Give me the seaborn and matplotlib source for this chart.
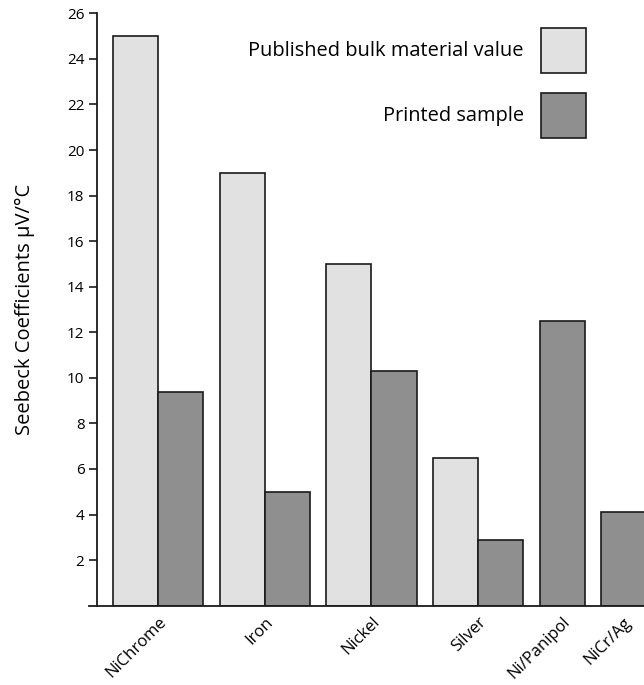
import matplotlib
matplotlib.use("Agg")
import matplotlib.pyplot as plt
import matplotlib.transforms as mtransforms
from matplotlib.patches import Patch
import seaborn as sns
import pandas as pd

categories = ["NiChrome", "Iron", "Nickel", "Silver", "Ni/Panipol", "NiCr/Ag"]
bulk_values = [25.0, 19.0, 15.0, 6.5, None, None]
printed_values = [9.4, 5.0, 10.3, 2.9, 12.5, 4.1]
series_names = ["Published bulk material value", "Printed sample"]
y_ticks = list(range(2, 27, 2))

colors = {"Published bulk material value": "#e1e1e1", "Printed sample": "#8f8f8f"}
edge = "#1a1a1a"

sns.set_theme(style="white")
plt.rcParams["font.family"] = ["Open Sans", "DejaVu Sans"]
for k in ["text.color", "axes.labelcolor", "xtick.color", "ytick.color"]:
    plt.rcParams[k] = "black"

# layout: bars of unit width, groups separated by a gap
gap = 0.36
rows = []
label_pos = []
start = 0.0
for cat, b, p in zip(categories, bulk_values, printed_values):
    vals = []
    if b is not None:
        vals.append((series_names[0], b))
    if p is not None:
        vals.append((series_names[1], p))
    for i, (s, v) in enumerate(vals):
        rows.append({"pos": start + i, "value": v, "series": s, "cat": cat})
    label_pos.append(start + (len(vals) - 1) / 2.0)
    start += len(vals) + gap
df = pd.DataFrame(rows)

fig = plt.figure(figsize=(6.44, 6.85), dpi=100)
ax = fig.add_axes([89 / 644, 1 - 605.7 / 685, 1 - 89 / 644, (605.7 - 13.3) / 685])

sns.barplot(data=df, x="pos", y="value", hue="series", hue_order=series_names,
            palette=colors, native_scale=True, dodge=False, width=1.0,
            saturation=1, edgecolor=edge, linewidth=1.2, errorbar=None,
            legend=False, ax=ax)

ax.set_xlim(-1.031, 11.25)
ax.set_ylim(0, 26)
ax.set_yticks(y_ticks)
ax.set_yticklabels([str(t) for t in y_ticks], fontsize=13.5)
ax.set_xticks(label_pos)
ax.set_xticklabels(categories, rotation=45, ha="right", rotation_mode="anchor", fontsize=12)
offset = mtransforms.ScaledTranslation(-4 / 100, 0, fig.dpi_scale_trans)
for lab in ax.get_xticklabels():
    lab.set_transform(lab.get_transform() + offset)
ax.set_xlabel("")
ax.set_ylabel("Seebeck Coefficients μV/°C", fontsize=14.5, labelpad=23)

for s in ["top", "right"]:
    ax.spines[s].set_visible(False)
ax.spines["left"].set_position(("data", -0.854))
ax.spines["left"].set_bounds(0, 26)
for s in ["left", "bottom"]:
    ax.spines[s].set_color(edge)
    ax.spines[s].set_linewidth(1.3)
ax.tick_params(axis="y", direction="out", length=6, width=1.2, color=edge, pad=3, left=True)
ax.tick_params(axis="x", length=0, pad=6)

fs_leg = 14.4
fs_px = fs_leg * 100 / 72
box = 45.0
hh = (box / fs_px - 0.245) / 0.65
handles = [Patch(facecolor=colors[s], edgecolor=edge, linewidth=1.2) for s in series_names]
ax.legend(handles, series_names, loc="upper right", markerfirst=False, frameon=False,
          fontsize=fs_leg, handlelength=box / fs_px, handleheight=hh, labelspacing=20 / fs_px,
          handletextpad=17 / fs_px, borderpad=0, borderaxespad=0,
          bbox_to_anchor=(586 / 644, 1 - 28 / 685), bbox_transform=fig.transFigure)

fig.savefig("out.png", dpi=100)
